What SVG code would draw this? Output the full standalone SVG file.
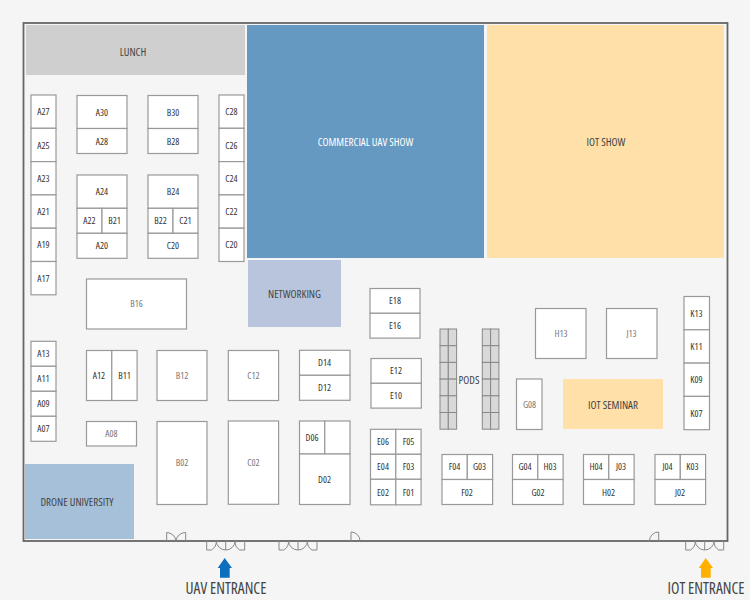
<svg xmlns="http://www.w3.org/2000/svg" width="750" height="600" viewBox="0 0 750 600">
<style>
text{font-family:"Open Sans","Liberation Sans",sans-serif;font-stretch:75%;text-anchor:middle;dominant-baseline:central;font-size:9.500px;fill:#333}
.g text{fill:#777}
.hall{font-size:11px;fill:#444}
.ent{font-size:15.500px;fill:#444;dominant-baseline:auto}
rect.b{fill:#fff;stroke:#999;stroke-width:1.200}
rect.p{fill:#d9d9d9;stroke:#888;stroke-width:1}
.door{fill:none;stroke:#888;stroke-width:1}
</style>
<defs>
<path id="dbl" class="door" d="M0 0V9H4.700A9.500 9.500 0 0 0 9.500 0A9.500 9.500 0 0 0 19 9V0M19 9A9.500 9.500 0 0 0 28.500 0A9.500 9.500 0 0 0 33 9H38V0"/>
</defs>
<rect width="750" height="600" fill="#f5f5f5"/>
<rect id="walls" x="23.500" y="23" width="704" height="518" fill="#f5f5f5" stroke="#666" stroke-width="1.800"/>
<g id="lunch"><rect x="26" y="25" width="219" height="50" fill="#cfcfcf"/><text x="133" y="51.500" class="hall">LUNCH</text></g>
<g id="commercial"><rect x="247" y="25" width="237" height="233" fill="#6699c2"/><text x="365.500" y="141" class="hall" style="fill:#fff">COMMERCIAL UAV SHOW</text></g>
<g id="iotshow"><rect x="487" y="25" width="237" height="233" fill="#fee0a8"/><text x="606" y="141" class="hall">IOT SHOW</text></g>
<g id="networking"><rect x="248" y="260" width="93" height="67" fill="#b9c5dc"/><text x="294.500" y="293.500" class="hall">NETWORKING</text></g>
<g id="drone"><rect x="25" y="464" width="109" height="75" fill="#a7c0da"/><text x="77" y="501.500" class="hall">DRONE UNIVERSITY</text></g>
<g id="iotseminar"><rect x="563" y="379" width="100" height="50" fill="#fee0a8"/><text x="613" y="404" class="hall">IOT SEMINAR</text></g>

<g id="A27"><rect class="b" x="31" y="95" width="25" height="33.300"/><text x="43.500" y="111.500">A27</text></g>
<g id="A25"><rect class="b" x="31" y="128.300" width="25" height="33.300"/><text x="43.500" y="145">A25</text></g>
<g id="A23"><rect class="b" x="31" y="161.600" width="25" height="33.300"/><text x="43.500" y="178">A23</text></g>
<g id="A21"><rect class="b" x="31" y="194.900" width="25" height="33.300"/><text x="43.500" y="211.500">A21</text></g>
<g id="A19"><rect class="b" x="31" y="228.200" width="25" height="33.300"/><text x="43.500" y="244.500">A19</text></g>
<g id="A17"><rect class="b" x="31" y="261.500" width="25" height="33.300"/><text x="43.500" y="278">A17</text></g>
<g id="A30"><rect class="b" x="77" y="95.500" width="50" height="33"/><text x="102" y="112">A30</text></g>
<g id="A28"><rect class="b" x="77" y="128.500" width="50" height="25"/><text x="102" y="141">A28</text></g>
<g id="B30"><rect class="b" x="148" y="95.500" width="50" height="33"/><text x="173" y="112">B30</text></g>
<g id="B28"><rect class="b" x="148" y="128.500" width="50" height="25"/><text x="173" y="141">B28</text></g>
<g id="C28"><rect class="b" x="219" y="95" width="25" height="33.300"/><text x="231.500" y="111.500">C28</text></g>
<g id="C26"><rect class="b" x="219" y="128.300" width="25" height="33.300"/><text x="231.500" y="145">C26</text></g>
<g id="C24"><rect class="b" x="219" y="161.600" width="25" height="33.300"/><text x="231.500" y="178">C24</text></g>
<g id="C22"><rect class="b" x="219" y="194.900" width="25" height="33.300"/><text x="231.500" y="211.500">C22</text></g>
<g id="C20a"><rect class="b" x="219" y="228.200" width="25" height="33.300"/><text x="231.500" y="244.500">C20</text></g>
<g id="A24"><rect class="b" x="77" y="175" width="50" height="33.300"/><text x="102" y="191.500">A24</text></g>
<g id="A22"><rect class="b" x="77" y="208.300" width="25" height="25"/><text x="89.500" y="220.500">A22</text></g>
<g id="B21"><rect class="b" x="102" y="208.300" width="25" height="25"/><text x="114.500" y="220.500">B21</text></g>
<g id="A20"><rect class="b" x="77" y="233.300" width="50" height="25"/><text x="102" y="245.500">A20</text></g>
<g id="B24"><rect class="b" x="148" y="175" width="50" height="33.300"/><text x="173" y="191.500">B24</text></g>
<g id="B22"><rect class="b" x="148" y="208.300" width="25" height="25"/><text x="160.500" y="220.500">B22</text></g>
<g id="C21"><rect class="b" x="173" y="208.300" width="25" height="25"/><text x="185.500" y="220.500">C21</text></g>
<g id="C20"><rect class="b" x="148" y="233.300" width="50" height="25"/><text x="173" y="245.500">C20</text></g>
<g id="B16" class="g"><rect class="b" x="86.500" y="279" width="100" height="50"/><text x="136.500" y="303.500">B16</text></g>

<g id="A13"><rect class="b" x="31" y="341.300" width="25" height="25"/><text x="43.500" y="353.500">A13</text></g>
<g id="A11"><rect class="b" x="31" y="366.300" width="25" height="25"/><text x="43.500" y="378.500">A11</text></g>
<g id="A09"><rect class="b" x="31" y="391.300" width="25" height="25"/><text x="43.500" y="403.500">A09</text></g>
<g id="A07"><rect class="b" x="31" y="416.300" width="25" height="25"/><text x="43.500" y="428.500">A07</text></g>
<g id="A12"><rect class="b" x="86.500" y="350.500" width="25.300" height="50"/><text x="99" y="375.500">A12</text></g>
<g id="B11"><rect class="b" x="111.800" y="350.500" width="25.300" height="50"/><text x="124.500" y="375.500">B11</text></g>
<g id="B12" class="g"><rect class="b" x="157" y="350.500" width="50" height="50"/><text x="182" y="375.500">B12</text></g>
<g id="C12" class="g"><rect class="b" x="228.300" y="350.500" width="50.300" height="50"/><text x="253.500" y="375.500">C12</text></g>
<g id="D14"><rect class="b" x="299.500" y="350.300" width="50.500" height="25"/><text x="324.500" y="362.500">D14</text></g>
<g id="D12"><rect class="b" x="299.500" y="375.300" width="50.500" height="25"/><text x="324.500" y="387.500">D12</text></g>
<g id="E18"><rect class="b" x="370" y="288.500" width="50" height="24.800"/><text x="395" y="300.500">E18</text></g>
<g id="E16"><rect class="b" x="370" y="313.300" width="50" height="24.800"/><text x="395" y="325.500">E16</text></g>
<g id="E12"><rect class="b" x="371" y="358.500" width="50.300" height="24.800"/><text x="396" y="370.500">E12</text></g>
<g id="E10"><rect class="b" x="371" y="383.300" width="50.300" height="24.800"/><text x="396" y="395.500">E10</text></g>
<g id="A08" class="g"><rect class="b" x="86.500" y="421.500" width="50" height="24.500"/><text x="111.500" y="433.500">A08</text></g>
<g id="B02" class="g"><rect class="b" x="157" y="421.500" width="50" height="83"/><text x="182" y="462.500">B02</text></g>
<g id="C02" class="g"><rect class="b" x="228.300" y="421" width="50.300" height="83.300"/><text x="253.500" y="462.500">C02</text></g>
<g id="D06"><rect class="b" x="299.500" y="421" width="25.300" height="33"/><text x="312" y="437.500">D06</text></g>
<g id="D06b"><rect class="b" x="324.800" y="421" width="25.200" height="33"/></g>
<g id="D02"><rect class="b" x="299.500" y="454" width="50.500" height="50.500"/><text x="324.500" y="479.500">D02</text></g>
<g id="E06"><rect class="b" x="370.500" y="429.300" width="25.300" height="25"/><text x="383" y="441.500">E06</text></g>
<g id="F05"><rect class="b" x="395.800" y="429.300" width="25.300" height="25"/><text x="408.500" y="441.500">F05</text></g>
<g id="E04"><rect class="b" x="370.500" y="454.300" width="25.300" height="25"/><text x="383" y="466.500">E04</text></g>
<g id="F03"><rect class="b" x="395.800" y="454.300" width="25.300" height="25"/><text x="408.500" y="466.500">F03</text></g>
<g id="E02"><rect class="b" x="370.500" y="479.300" width="25.300" height="25.500"/><text x="383" y="492">E02</text></g>
<g id="F01"><rect class="b" x="395.800" y="479.300" width="25.300" height="25.500"/><text x="408.500" y="492">F01</text></g>

<g id="pods">
<rect class="p" x="440" y="329" width="8.300" height="16.700"/><rect class="p" x="448.300" y="329" width="8.300" height="16.700"/>
<rect class="p" x="440" y="345.700" width="8.300" height="16.700"/><rect class="p" x="448.300" y="345.700" width="8.300" height="16.700"/>
<rect class="p" x="440" y="362.400" width="8.300" height="16.700"/><rect class="p" x="448.300" y="362.400" width="8.300" height="16.700"/>
<rect class="p" x="440" y="379.100" width="8.300" height="16.700"/><rect class="p" x="448.300" y="379.100" width="8.300" height="16.700"/>
<rect class="p" x="440" y="395.800" width="8.300" height="16.700"/><rect class="p" x="448.300" y="395.800" width="8.300" height="16.700"/>
<rect class="p" x="440" y="412.500" width="8.300" height="16.700"/><rect class="p" x="448.300" y="412.500" width="8.300" height="16.700"/>
<rect class="p" x="482.300" y="329" width="8.300" height="16.700"/><rect class="p" x="490.600" y="329" width="8.300" height="16.700"/>
<rect class="p" x="482.300" y="345.700" width="8.300" height="16.700"/><rect class="p" x="490.600" y="345.700" width="8.300" height="16.700"/>
<rect class="p" x="482.300" y="362.400" width="8.300" height="16.700"/><rect class="p" x="490.600" y="362.400" width="8.300" height="16.700"/>
<rect class="p" x="482.300" y="379.100" width="8.300" height="16.700"/><rect class="p" x="490.600" y="379.100" width="8.300" height="16.700"/>
<rect class="p" x="482.300" y="395.800" width="8.300" height="16.700"/><rect class="p" x="490.600" y="395.800" width="8.300" height="16.700"/>
<rect class="p" x="482.300" y="412.500" width="8.300" height="16.700"/><rect class="p" x="490.600" y="412.500" width="8.300" height="16.700"/>
<text x="469" y="379.500" class="hall">PODS</text></g>

<g id="G08" class="g"><rect class="b" x="516.500" y="379" width="25.500" height="50.500"/><text x="529.500" y="404.500">G08</text></g>
<g id="H13" class="g"><rect class="b" x="535.500" y="308.500" width="50.500" height="50"/><text x="561" y="333.500">H13</text></g>
<g id="J13" class="g"><rect class="b" x="606.500" y="308.500" width="50.500" height="50"/><text x="631.500" y="333.500">J13</text></g>
<g id="K13"><rect class="b" x="684" y="296.500" width="25.500" height="33.300"/><text x="696.500" y="313">K13</text></g>
<g id="K11"><rect class="b" x="684" y="329.800" width="25.500" height="33.300"/><text x="696.500" y="346">K11</text></g>
<g id="K09"><rect class="b" x="684" y="363.100" width="25.500" height="33.300"/><text x="696.500" y="379.500">K09</text></g>
<g id="K07"><rect class="b" x="684" y="396.400" width="25.500" height="33.300"/><text x="696.500" y="413">K07</text></g>

<g id="F04"><rect class="b" x="442" y="454.500" width="25.300" height="25"/><text x="454.500" y="466.500">F04</text></g>
<g id="G03"><rect class="b" x="467.300" y="454.500" width="25.300" height="25"/><text x="479.500" y="466.500">G03</text></g>
<g id="F02"><rect class="b" x="442" y="479.500" width="50.600" height="25"/><text x="467" y="492">F02</text></g>
<g id="G04"><rect class="b" x="512.500" y="454.500" width="25.300" height="25"/><text x="525" y="466.500">G04</text></g>
<g id="H03"><rect class="b" x="537.800" y="454.500" width="25.300" height="25"/><text x="550" y="466.500">H03</text></g>
<g id="G02"><rect class="b" x="512.500" y="479.500" width="50.600" height="25"/><text x="538" y="492">G02</text></g>
<g id="H04"><rect class="b" x="583.500" y="454.500" width="25.300" height="25"/><text x="596" y="466.500">H04</text></g>
<g id="J03"><rect class="b" x="608.800" y="454.500" width="25.300" height="25"/><text x="621" y="466.500">J03</text></g>
<g id="H02"><rect class="b" x="583.500" y="479.500" width="50.600" height="25"/><text x="608.500" y="492">H02</text></g>
<g id="J04"><rect class="b" x="655" y="454.500" width="25.300" height="25"/><text x="667.500" y="466.500">J04</text></g>
<g id="K03"><rect class="b" x="680.300" y="454.500" width="25.300" height="25"/><text x="692.500" y="466.500">K03</text></g>
<g id="J02"><rect class="b" x="655" y="479.500" width="50.600" height="25"/><text x="680" y="492">J02</text></g>

<g id="connectors">
<path class="door" d="M166.700 541V532.500A9.500 9.500 0 0 1 176 541A9.500 9.500 0 0 1 185.700 532.500V541"/>
<use href="#dbl" x="206.700" y="541"/>
<use href="#dbl" x="279" y="541"/>
<use href="#dbl" x="685.700" y="541"/>
<path class="door" d="M351 541V532A9 9 0 0 1 360 541"/>
<path class="door" d="M658.700 541V532A9 9 0 0 0 649.500 541"/>
</g>
<g id="uav-entrance"><path d="M224.700 558L232 568H229.700V577.700H220V568H217.700Z" fill="#0b6fbe"/><text x="226" y="594" class="ent">UAV ENTRANCE</text></g>
<g id="iot-entrance"><path d="M705.700 558L713 568H710.700V577.700H701V568H698.700Z" fill="#ffb000"/><text x="706" y="594" class="ent">IOT ENTRANCE</text></g>
</svg>
